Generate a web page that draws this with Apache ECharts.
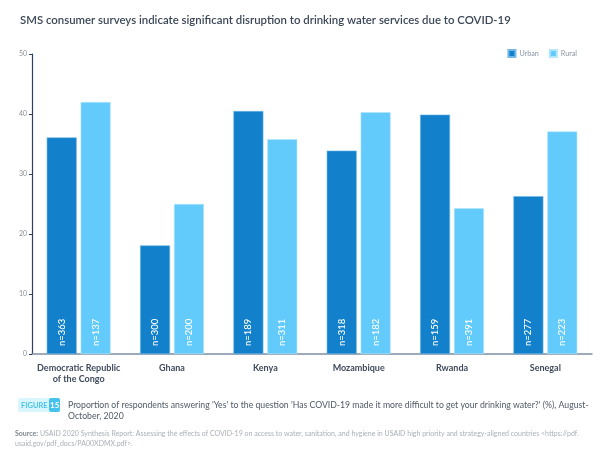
<!DOCTYPE html>
<html>
<head>
<meta charset="utf-8">
<script src="https://cdn.jsdelivr.net/npm/echarts@6/dist/echarts.min.js"></script>
<style>
  html, body { margin: 0; padding: 0; background: #fff; }
  #chart { width: 600px; height: 459px; }
</style>
</head>
<body>
<div id="chart"></div>
<script>
const countries = ['Democratic Republic\nof the Congo', 'Ghana', 'Kenya', 'Mozambique', 'Rwanda', 'Senegal']
const urban = [36.1, 18.1, 40.5, 33.9, 39.9, 26.3]
const rural = [42.0, 25.0, 35.8, 40.3, 24.3, 37.1]
const urbanN = [363, 300, 189, 318, 159, 277]
const ruralN = [137, 200, 311, 182, 391, 223]

const font = 'Lato, "Noto Sans", sans-serif'

const nLabel = (counts) => ({
  show: true,
  position: 'insideBottom',
  rotate: 90,
  align: 'left',
  verticalAlign: 'middle',
  distance: 8,
  color: '#fff',
  fontSize: 9.5,
  fontWeight: 500,
  fontFamily: font,
  formatter: (p) => 'n=' + counts[p.dataIndex],
})

echarts.init(document.getElementById('chart')).setOption({
  animation: false,
  title: {
    text: 'SMS consumer surveys indicate significant disruption to drinking water services due to COVID-19',
    left: 15,
    top: 10,
    textStyle: { fontFamily: font, fontSize: 11.4, fontWeight: 600, color: '#3b4757' },
  },
  legend: {
    right: 18,
    top: 44,
    itemWidth: 7,
    itemHeight: 7,
    itemGap: 10,
    icon: 'rect',
    textStyle: { fontFamily: font, fontSize: 7.2, color: '#8a96a3', padding: [0, 0, 0, -1] },
    data: ['Urban', 'Rural'],
  },
  grid: { left: 32, right: 8, top: 54, bottom: 105, containLabel: false },
  xAxis: {
    type: 'category',
    data: countries,
    axisLine: { lineStyle: { color: '#7d8ea3', width: 1.5 } },
    axisTick: { show: false },
    axisLabel: {
      fontFamily: font,
      fontSize: 9,
      fontWeight: 'bold',
      color: '#3f4b5b',
      lineHeight: 11,
      margin: 9,
      interval: 0,
    },
  },
  yAxis: {
    type: 'value',
    min: 0,
    max: 50,
    interval: 10,
    splitLine: { show: false },
    axisLine: { show: true, lineStyle: { color: '#2e4260', width: 1.2 } },
    axisTick: { show: true, length: 3, lineStyle: { color: '#2e4260' } },
    axisLabel: { fontFamily: font, fontSize: 7, color: '#8a8f96', margin: 5 },
  },
  series: [
    {
      name: 'Urban',
      type: 'bar',
      data: urban,
      barWidth: 30,
      barGap: '13%',
      itemStyle: { color: '#1280ca', borderColor: '#6fb8e8', borderWidth: 0.6 },
      label: nLabel(urbanN),
    },
    {
      name: 'Rural',
      type: 'bar',
      data: rural,
      barWidth: 30,
      itemStyle: { color: '#63cbfc', borderColor: '#b3e6fe', borderWidth: 0.6 },
      label: nLabel(ruralN),
    },
  ],
  graphic: [
    {
      type: 'rect',
      left: 18,
      top: 398,
      shape: { width: 40, height: 14, r: 2 },
      style: { fill: '#d9f5fd' },
    },
    {
      type: 'text',
      left: 21,
      top: 402,
      style: { text: 'FIGURE', fontFamily: font, fontSize: 7.5, fontWeight: 'bold', fill: '#45c3ec' },
    },
    {
      type: 'rect',
      left: 49,
      top: 398,
      shape: { width: 11, height: 14, r: 2 },
      style: { fill: '#45c3ec' },
    },
    {
      type: 'text',
      left: 50,
      top: 401,
      style: { text: '15', fontFamily: font, fontSize: 8, fontWeight: 'bold', fill: '#fff' },
    },
    {
      type: 'text',
      left: 68,
      top: 399,
      style: {
        text: "Proportion of respondents answering 'Yes' to the question 'Has COVID-19 made it more difficult to get your drinking water?' (%), August-\nOctober, 2020",
        fontFamily: font,
        fontSize: 8.7,
        lineHeight: 11.5,
        fill: '#4f5967',
      },
    },
    {
      type: 'text',
      left: 15,
      top: 428,
      style: {
        text: '{b|Source:} USAID 2020 Synthesis Report: Assessing the effects of COVID-19 on access to water, sanitation, and hygiene in USAID high priority and strategy-aligned countries <https://pdf.\nusaid.gov/pdf_docs/PA00XDMX.pdf>.',
        fontFamily: font,
        fontSize: 7,
        lineHeight: 10.5,
        fill: '#a9b0b8',
        rich: { b: { fontFamily: font, fontSize: 7, fontWeight: 'bold', fill: '#7d8690' } },
      },
    },
  ],
})
</script>
</body>
</html>
